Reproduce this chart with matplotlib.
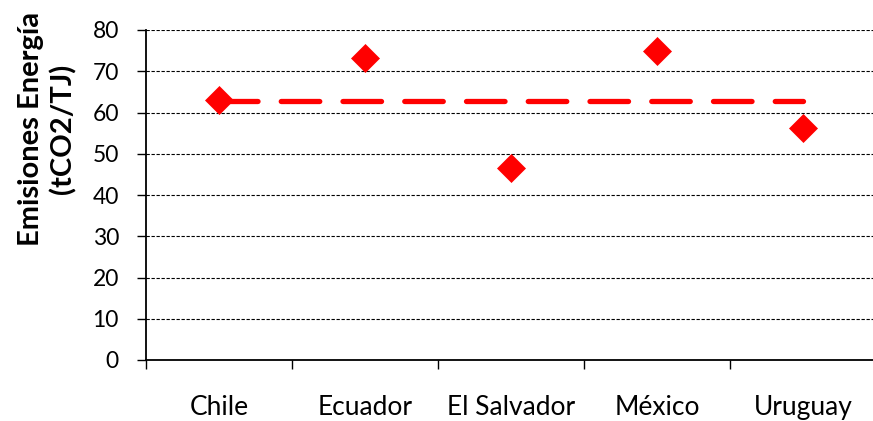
import matplotlib

matplotlib.use("Agg")
import matplotlib.pyplot as plt
import numpy as np

plt.rcParams["font.family"] = ["Lato", "DejaVu Sans"]

# Emission factor per country (tCO2/TJ)
countries = ["Chile", "Ecuador", "El Salvador", "México", "Uruguay"]
emissions = [63.0, 73.1, 46.5, 74.9, 56.3]
y_ticks = [0, 10, 20, 30, 40, 50, 60, 70, 80]

W, H, DPI = 873, 421, 100
fig = plt.figure(figsize=(W / DPI, H / DPI), dpi=DPI)
ax = fig.add_axes([146 / W, (H - 360) / H, 730.5 / W, 330 / H])

x = np.arange(len(countries))
mean_value = float(np.mean(emissions))

# average reference line across the countries
ax.plot(
    [x[0], x[-1]],
    [mean_value, mean_value],
    color="#ff0000",
    linewidth=3.8,
    dashes=(7.3, 4.4),
    dash_capstyle="round",
    zorder=3,
)
ax.plot(
    x,
    emissions,
    linestyle="none",
    marker="D",
    markersize=14.5,
    markerfacecolor="#ff0000",
    markeredgecolor="#ff0000",
    markeredgewidth=0.5,
    zorder=4,
)

ax.set_xlim(-0.5, len(countries) - 0.5)
ax.set_ylim(0, 80)
ax.set_yticks(y_ticks)
ax.tick_params(axis="y", length=6.5, width=1, pad=13, labelsize=16.5, colors="black")

# boundaries carry the tick marks, centres carry the names
ax.set_xticks(np.arange(-0.5, len(countries), 1.0))
ax.set_xticklabels([])
ax.set_xticks(x, minor=True)
ax.set_xticklabels(countries, minor=True)
ax.tick_params(axis="x", which="major", length=6.5, width=1)
ax.tick_params(axis="x", which="minor", length=0, pad=25, labelsize=19)

ax.grid(axis="y", color="black", linewidth=0.8, linestyle=(0, (3, 1.5)))
ax.set_axisbelow(True)
for side in ("top", "right"):
    ax.spines[side].set_visible(False)
for side in ("left", "bottom"):
    ax.spines[side].set_linewidth(1.3)
    ax.spines[side].set_zorder(5)

fig.text(
    47 / W,
    (H - 129) / H,
    "Emisiones Energía\n(tCO2/TJ)",
    rotation=90,
    ha="center",
    va="center",
    multialignment="center",
    fontsize=21,
    fontweight="bold",
    linespacing=1.25,
)

fig.savefig("out.png", dpi=DPI)
